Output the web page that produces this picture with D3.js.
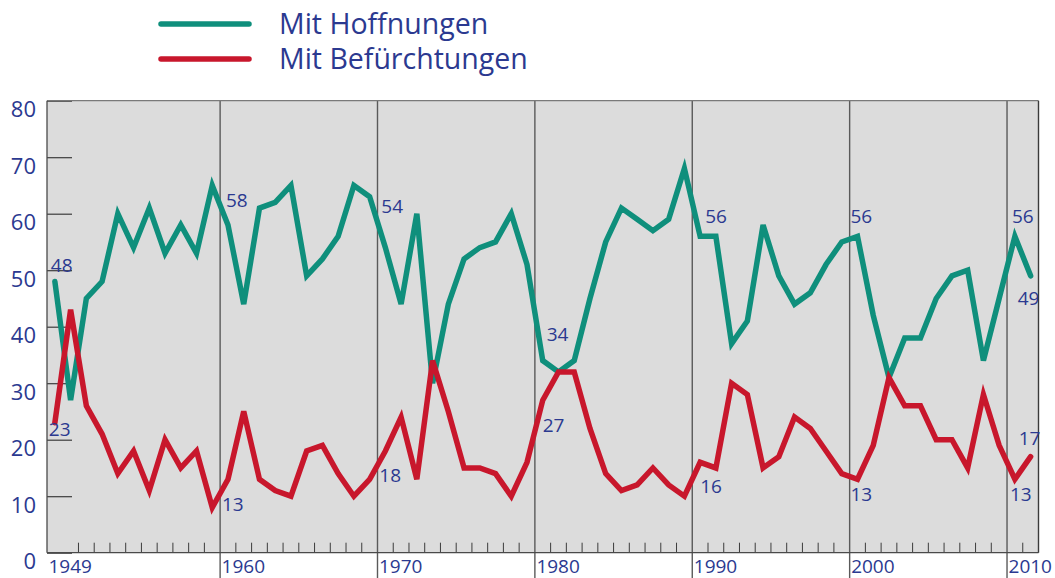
<!DOCTYPE html>
<html>
<head>
<meta charset="utf-8">
<script src="https://cdn.jsdelivr.net/npm/d3@7"></script>
<style>
  html, body { margin: 0; padding: 0; background: #ffffff; }
  svg { display: block; }
  text { font-family: "Open Sans", "Noto Sans", sans-serif; fill: #2b3990; }
</style>
</head>
<body>
<svg id="chart" width="1055" height="578"></svg>
<script>
// ---- Data ----
const years = [1949, 1950, 1951, 1952, 1953, 1954, 1955, 1956, 1957, 1958,
  1959, 1960, 1961, 1962, 1963, 1964, 1965, 1966, 1967, 1968,
  1969, 1970, 1971, 1972, 1973, 1974, 1975, 1976, 1977, 1978,
  1979, 1980, 1981, 1982, 1983, 1984, 1985, 1986, 1987, 1988,
  1989, 1990, 1991, 1992, 1993, 1994, 1995, 1996, 1997, 1998,
  1999, 2000, 2001, 2002, 2003, 2004, 2005, 2006, 2007, 2008,
  2009, 2010, 2011];

const hoffnungen = [48, 27, 45, 48, 60, 54, 61, 53, 58, 53,
  65, 58, 44, 61, 62, 65, 49, 52, 56, 65,
  63, 54, 44, 60, 30, 44, 52, 54, 55, 60,
  51, 34, 32, 34, 45, 55, 61, 59, 57, 59,
  68, 56, 56, 37, 41, 58, 49, 44, 46, 51,
  55, 56, 42, 31, 38, 38, 45, 49, 50, 34,
  45, 56, 49];

const befuerchtungen = [23, 43, 26, 21, 14, 18, 11, 20, 15, 18,
  8, 13, 25, 13, 11, 10, 18, 19, 14, 10,
  13, 18, 24, 13, 34, 25, 15, 15, 14, 10,
  16, 27, 32, 32, 22, 14, 11, 12, 15, 12,
  10, 16, 15, 30, 28, 15, 17, 24, 22, 18,
  14, 13, 19, 31, 26, 26, 20, 20, 15, 28,
  19, 13, 17];

const seriesNames = ["Mit Hoffnungen", "Mit Befürchtungen"];
const seriesColors = ["#0f8f7c", "#c8172c"];

const yTicks = [0, 10, 20, 30, 40, 50, 60, 70, 80];
const decadeTicks = [1960, 1970, 1980, 1990, 2000, 2010];
const xLabelTicks = [1949, 1960, 1970, 1980, 1990, 2000, 2010];

// value labels: which year of which series is annotated
const labelYears = [1949, 1960, 1970, 1980, 1990, 2000, 2010, 2011];

// ---- Layout ----
const svg = d3.select("#chart");
const margin = { left: 47, right: 1038.5, top: 100.7, bottom: 552.7 };

const x = d3.scaleLinear().domain([1949, 2012]).range([margin.left, margin.right]);
const y = d3.scaleLinear().domain([0, 80]).range([margin.bottom, margin.top]);

// plot background
svg.append("rect")
  .attr("x", x(1949)).attr("y", y(80))
  .attr("width", x(2012) - x(1949)).attr("height", y(0) - y(80))
  .attr("fill", "#dcdcdc");

// minor year ticks along the bottom
const minorYears = d3.range(1950, 2012).filter(v => v % 10 !== 0);
svg.append("g").selectAll("line").data(minorYears).join("line")
  .attr("x1", d => x(d)).attr("x2", d => x(d))
  .attr("y1", y(0)).attr("y2", y(0) - 10)
  .attr("stroke", "#3c3c3c").attr("stroke-width", 1);

// decade lines (through plot and below axis)
svg.append("g").selectAll("line").data(decadeTicks).join("line")
  .attr("x1", d => x(d)).attr("x2", d => x(d))
  .attr("y1", y(80)).attr("y2", 578)
  .attr("stroke", "#5a5a5a").attr("stroke-width", 1.4);

// y axis with short inner ticks
const yAxis = d3.axisLeft(y).tickValues(yTicks).tickSize(-25).tickPadding(11).tickFormat(d3.format("d"));
const gy = svg.append("g").attr("transform", `translate(${x(1949)},0)`).call(yAxis);
gy.select(".domain").remove();
gy.selectAll(".tick line").attr("stroke", "#3c3c3c").attr("stroke-width", 1.2);
gy.selectAll(".tick text")
  .attr("dy", null).attr("y", 16)
  .style("font-size", "22px").style("fill", "#2b3990");

// x axis labels
const xAxis = d3.axisBottom(x).tickValues(xLabelTicks).tickSize(0).tickPadding(0).tickFormat(d3.format("d"));
const gx = svg.append("g").attr("transform", `translate(0,${y(0)})`).call(xAxis);
gx.select(".domain").remove();
gx.selectAll(".tick text")
  .attr("text-anchor", "start").attr("x", 1).attr("dy", null).attr("y", 20)
  .style("font-size", "19px").style("fill", "#2b3990");

// frame
svg.append("line").attr("x1", x(1949)).attr("x2", x(2012)).attr("y1", y(80)).attr("y2", y(80))
  .attr("stroke", "#7a7a7a").attr("stroke-width", 1.3);
svg.append("line").attr("x1", x(1949)).attr("x2", x(2012)).attr("y1", y(0)).attr("y2", y(0))
  .attr("stroke", "#4a4a4a").attr("stroke-width", 1.3);
svg.append("line").attr("x1", x(1949)).attr("x2", x(1949)).attr("y1", y(80)).attr("y2", y(0))
  .attr("stroke", "#4a4a4a").attr("stroke-width", 1.3);
svg.append("line").attr("x1", x(2012)).attr("x2", x(2012)).attr("y1", y(80)).attr("y2", y(0))
  .attr("stroke", "#3a3a3a").attr("stroke-width", 1.4);

// lines
const seriesData = [hoffnungen, befuerchtungen];
const line = d3.line()
  .x((d, i) => x(years[i] + 0.5))
  .y(d => y(d));

seriesData.forEach((vals, s) => {
  svg.append("path")
    .datum(vals)
    .attr("d", line)
    .attr("fill", "none")
    .attr("stroke", seriesColors[s])
    .attr("stroke-width", 5.5)
    .attr("stroke-linejoin", "miter")
    .attr("stroke-miterlimit", 4)
    .attr("stroke-linecap", "round");
});

// value labels (offsets are styling only)
const labelOffsets = [
  // green
  [[-4, -10], [-2, -18], [-4, -35], [4, -20], [5, -13], [-7, -13], [-3, -13], [-13, 29]],
  // red
  [[-6, 13], [-6, 32], [-6, 31], [0, 32], [0, 31], [-7, 22], [-5, 22], [-12, -12]]
];
seriesData.forEach((vals, s) => {
  const lab = labelYears.map((yr, k) => ({
    yr, v: vals[years.indexOf(yr)], off: labelOffsets[s][k]
  }));
  svg.append("g").selectAll("text").data(lab).join("text")
    .attr("x", d => x(d.yr + 0.5) + d.off[0])
    .attr("y", d => y(d.v) + d.off[1])
    .style("font-size", "19px")
    .text(d => d.v);
});

// legend
const legend = svg.append("g");
seriesNames.forEach((name, s) => {
  const ly = 24 + s * 35;
  legend.append("line")
    .attr("x1", 161).attr("x2", 249).attr("y1", ly).attr("y2", ly)
    .attr("stroke", seriesColors[s]).attr("stroke-width", 5.5).attr("stroke-linecap", "round");
  legend.append("text")
    .attr("x", 279).attr("y", ly + 9.5)
    .style("font-size", "28.5px")
    .text(name);
});
</script>
</body>
</html>
